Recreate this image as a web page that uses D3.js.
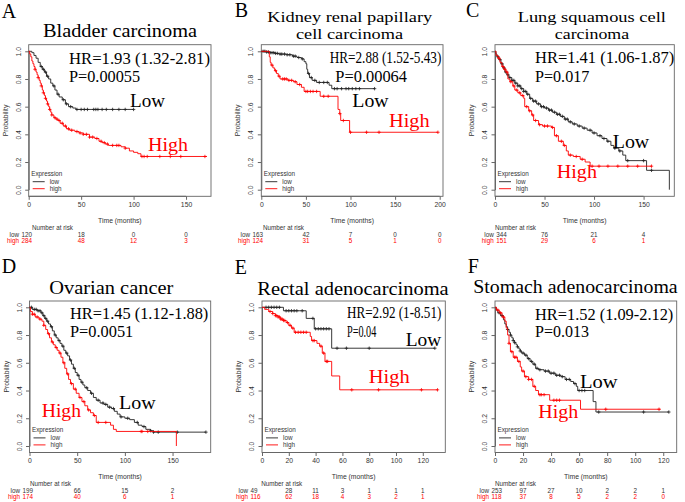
<!DOCTYPE html>
<html><head><meta charset="utf-8">
<script src="https://cdn.jsdelivr.net/npm/d3@7"></script>
<style>body{margin:0;background:#fff}</style>
</head><body><svg id="c" width="685" height="502"></svg>
<script>
// ---------------- DATA ----------------
const panelLetters = ["A","B","C","D","E","F"];
const titles = [["Bladder carcinoma"],["Kidney renal papillary","cell carcinoma"],["Lung squamous cell","carcinoma"],["Ovarian cancer"],["Rectal adenocarcinoma"],["Stomach adenocarcinoma"]];
const hrTexts = ["HR=1.93 (1.32-2.81)","HR=2.88 (1.52-5.43)","HR=1.41 (1.06-1.87)","HR=1.45 (1.12-1.88)","HR=2.92 (1-8.51)","HR=1.52 (1.09-2.12)"];
const pTexts = ["P=0.00055","P=0.00064","P=0.017","P=0.0051","P=0.04","P=0.013"];
const xTicks = [[0,50,100,150],[0,50,100,150,200],[0,50,100,150],[0,50,100,150],[0,20,40,60,80,100,120],[0,20,40,60,80,100,120]];
const yTicks = [0,0.2,0.4,0.6,0.8,1.0];
const riskLow = [[120,18,0,0],[163,42,7,0,0],[344,76,21,4],[199,66,15,2],[49,28,11,3,1,1,1],[253,97,27,10,2,2,1]];
const riskHigh = [[284,48,12,3],[124,31,5,1,0],[151,29,6,1],[174,40,6,1],[116,62,18,4,3,2,1],[118,37,8,5,2,2,0]];

// survival steps [time, survival after drop]
const lowA = [[0,1],[3,0.99],[5,0.97],[7,0.95],[9,0.92],[11,0.89],[13,0.87],[15,0.85],[17,0.82],[19,0.80],[21,0.77],[23,0.75],[25,0.72],[27,0.69],[29,0.67],[32,0.65],[35,0.62],[38,0.60],[42,0.59],[45,0.58]];
const highA = [[0,1],[1,0.98],[2,0.96],[3,0.93],[4,0.91],[5,0.89],[6,0.87],[7,0.85],[8,0.83],[9,0.81],[10,0.79],[11,0.77],[12,0.75],[13,0.72],[14,0.70],[15,0.68],[16,0.66],[17,0.64],[18,0.62],[19,0.60],[20,0.58],[21,0.56],[22,0.54],[24,0.52],[26,0.51],[28,0.50],[30,0.48],[33,0.46],[36,0.44],[39,0.43],[44,0.42],[48,0.41],[52,0.40],[58,0.38],[63,0.37],[67,0.35],[70,0.34],[73,0.33],[76,0.32],[88,0.31],[92,0.30],[96,0.28],[100,0.27],[104,0.26],[107,0.24]];
const lowB = [[0,1],[5,0.995],[10,0.99],[15,0.985],[20,0.98],[28,0.975],[35,0.965],[40,0.955],[45,0.945],[48,0.925],[50,0.91],[51,0.87],[52,0.84],[54,0.81],[57,0.79],[62,0.775],[76,0.755],[79,0.73]];
const highB = [[0,1],[9,0.96],[10,0.92],[11,0.90],[13,0.88],[15,0.86],[17,0.84],[19,0.82],[21,0.80],[30,0.79],[36,0.78],[40,0.76],[45,0.74],[48,0.71],[66,0.675],[86,0.58],[88,0.55],[89,0.50],[99,0.415]];
const lowC = [[0,1],[1,0.98],[2,0.96],[4,0.94],[6,0.91],[8,0.88],[10,0.85],[12,0.83],[14,0.81],[17,0.79],[20,0.77],[23,0.75],[26,0.73],[29,0.71],[32,0.69],[35,0.66],[38,0.64],[42,0.62],[46,0.60],[50,0.59],[54,0.575],[58,0.56],[62,0.545],[66,0.53],[70,0.51],[74,0.49],[78,0.475],[83,0.46],[88,0.445],[93,0.43],[98,0.41],[103,0.39],[108,0.37],[113,0.35],[117,0.32],[120,0.30],[125,0.28],[129,0.25],[132,0.21],[153,0.14],[176,0.0]];
const highC = [[0,1],[1,0.97],[3,0.95],[5,0.92],[7,0.89],[9,0.87],[11,0.85],[13,0.80],[15,0.78],[18,0.75],[20,0.72],[23,0.70],[26,0.68],[29,0.66],[30,0.60],[34,0.57],[37,0.54],[39,0.50],[44,0.47],[48,0.46],[57,0.45],[60,0.39],[64,0.35],[69,0.32],[72,0.28],[74,0.25],[79,0.24],[86,0.22],[91,0.20],[96,0.17]];
const lowD = [[0,1],[3,0.985],[8,0.975],[12,0.96],[14,0.94],[16,0.92],[18,0.90],[20,0.88],[22,0.86],[24,0.83],[26,0.80],[28,0.78],[30,0.76],[32,0.74],[34,0.72],[36,0.69],[38,0.67],[40,0.65],[42,0.62],[44,0.59],[46,0.56],[48,0.53],[50,0.51],[52,0.48],[54,0.46],[56,0.44],[58,0.42],[61,0.40],[64,0.38],[67,0.35],[70,0.33],[74,0.31],[78,0.30],[82,0.28],[86,0.27],[89,0.25],[92,0.23],[95,0.21],[100,0.20],[105,0.19],[110,0.17],[114,0.15],[118,0.14],[122,0.12],[127,0.11],[130,0.10]];
const highD = [[0,1],[1,0.97],[3,0.95],[6,0.93],[10,0.915],[13,0.90],[15,0.87],[17,0.84],[19,0.81],[21,0.78],[23,0.75],[25,0.73],[27,0.71],[29,0.69],[31,0.67],[33,0.64],[35,0.60],[37,0.56],[39,0.52],[41,0.48],[43,0.45],[46,0.41],[49,0.38],[52,0.35],[55,0.32],[58,0.29],[61,0.26],[64,0.24],[67,0.22],[70,0.17],[85,0.15],[88,0.12],[91,0.105],[154,0]];
const lowE = [[0,1],[16,0.975],[33,0.92],[39,0.845],[52,0.705]];
const highE = [[0,1],[2,0.985],[5,0.97],[8,0.955],[10,0.94],[12,0.93],[14,0.915],[16,0.905],[18,0.89],[20,0.87],[22,0.85],[24,0.82],[36,0.79],[37,0.76],[41,0.74],[43,0.72],[45,0.67],[47,0.61],[52,0.505],[58,0.405]];
const lowF = [[0,1],[1,0.98],[2,0.96],[4,0.94],[6,0.91],[7,0.88],[8,0.86],[9,0.84],[10,0.82],[11,0.80],[12,0.78],[13,0.76],[14,0.745],[15,0.73],[16,0.715],[17,0.70],[18,0.685],[19,0.67],[21,0.655],[23,0.63],[25,0.61],[27,0.59],[29,0.56],[31,0.55],[35,0.54],[39,0.525],[43,0.51],[47,0.50],[50,0.48],[54,0.465],[56,0.45],[58,0.43],[59,0.40],[70,0.32],[72,0.245]];
const highF = [[0,1],[1,0.98],[3,0.96],[5,0.93],[7,0.90],[8,0.85],[9,0.80],[10,0.74],[11,0.68],[13,0.64],[16,0.61],[18,0.57],[19,0.54],[21,0.50],[24,0.48],[27,0.43],[29,0.40],[31,0.37],[39,0.33],[61,0.265]];

const lowEnd = [100,127,176,185,129,124];
const highEnd = [170,198,158,154,131,118];

const lowCens = [
 [12,14,16,18,24,28,33,36,40,46,50,53,56,62,64,66,70,74,80,86,92,100],
 [2,4,6,8,10,12,14,16,18,21,23,26,29,32,36,38,42,46,53,56,60,65,70,74,82,85,90,95,98,102,106,110,127],
 [3,5,7,9,11,13,15,17,19,21,23,25,27,29,31,33,36,39,41,44,47,49,52,55,57,60,63,65,68,71,73,76,80,85,90,96,100,106,110,114,121,126,134,150,158],
 [2,5,7,9,11,13,15,17,19,23,27,31,35,39,43,47,51,55,60,65,72,77,80,84,88,96,103,113,120,127,130,135,155,185],
 [3,5,7,9,11,13,18,20,22,24,26,30,38,40,42,44,46,48,50,56,63,80,129],
 [3,5,9,11,13,14,16,18,20,22,24,26,28,30,32,36,38,40,42,44,46,48,51,53,57,60,62,64,74,106,124]
];
const highCens = [
 [6,9,12,14,16,18,20,22,25,27,29,32,35,38,41,46,49,52,55,58,61,65,69,72,75,80,84,86,92,108,110,113,125,135,145,168],
 [12,16,20,24,26,28,31,34,38,43,50,52,55,58,62,70,75,88,92,100,118,132,198],
 [4,8,10,12,16,19,22,25,28,32,35,38,41,45,50,53,58,62,67,70,76,82,88,98,105,114,124,134,144,158],
 [3,5,8,11,15,20,24,28,32,36,40,44,48,53,57,62,68,72,80,117,118,124],
 [6,8,10,11,12,13,14,15,16,17,19,21,23,25,27,29,31,33,38,39,44,46,48,49,67,87,119,131],
 [2,4,6,10,12,14,15,17,20,22,24,26,28,32,33,35,42,44,46,79,117]
];
const lowSteps = [lowA,lowB,lowC,lowD,lowE,lowF];
const highSteps = [highA,highB,highC,highD,highE,highF];

// ---------------- LAYOUT ----------------
const rowTop = {t:44.7,b:196.3,y1:51.3,y0:189.7};
const rowBot = {t:301,b:452.5,y1:307.3,y0:446};
const layouts = [
 Object.assign({l:28.7,r:211,xmax:173.8,letter:[1.7,18.3],ts:19,title:[[120,36.7,154]],hr:[69,64,141],p:[69,81.7,71],low:[130,106.7,35],high:[148,150.7,40],riskEnd:19,narX:32},rowTop),
 Object.assign({l:261.3,r:443,xmax:203.7,letter:[234.7,16.7],ts:15,title:[[349.7,21.8,165],[349.5,38.8,107]],hr:[329.7,63.3,111.6],p:[335.3,81.7,71.7],low:[352.3,107.3,36.4],high:[389,126.7,40.7],riskEnd:250,narX:263},rowTop),
 Object.assign({l:495,r:674.3,xmax:181,letter:[466,16.7],ts:15,title:[[591.8,21.8,148.3],[592,38.8,74.3]],hr:[535,63.3,139.3],p:[535,81.7,54.3],low:[612.7,147.7,36.6],high:[556.7,178.3,40.3],riskEnd:493.7,narX:495},rowTop),
 Object.assign({l:29.5,r:210.7,xmax:190,letter:[1.7,272.7],ts:18,title:[[111.3,294,124]],hr:[70,319.3,138.3],p:[70,336.7,63.3],low:[119,409.3,36.7],high:[41.7,416.7,39.3],riskEnd:20,narX:30},rowBot),
 Object.assign({l:262,r:445.3,xmax:136.8,letter:[234.7,274],ts:18,title:[[353,295,191.4]],hr:[347,318.3,94.3],p:[347,336.7,29.3],low:[405.7,346,35.6],high:[368.7,383.3,41],riskEnd:248,narX:261.3},rowBot),
 Object.assign({l:495,r:676.7,xmax:129.6,letter:[467.7,273.3],ts:18,title:[[575.5,292.7,204.4]],hr:[535,320,138.3],p:[535,337.3,54],low:[580,387.7,37.7],high:[538.3,418.3,40],riskEnd:489,narX:495},rowBot)
];

const RED = "#ff0000", BLK = "#222";
const SERIF = "'Liberation Serif','Times New Roman',serif";
const SANS = "'Liberation Sans',Arial,sans-serif";
const svg = d3.select("#c");

function survAt(steps, t){ let s = 1; for (const d of steps){ if (d[0] <= t) s = d[1]; } return s; }

function fitText(g, txt, x, y, w, size, fam, color, anchor){
  const t = g.append("text").attr("x", x).attr("y", y).text(txt)
    .attr("font-family", fam).attr("font-size", size).attr("fill", color);
  if (anchor) t.attr("text-anchor", anchor);
  if (w) t.attr("textLength", w).attr("lengthAdjust", "spacingAndGlyphs");
  return t;
}

layouts.forEach((L, i) => {
  const g = svg.append("g");
  const x = d3.scaleLinear().domain([0, L.xmax]).range([L.l, L.r]);
  const y = d3.scaleLinear().domain([0, 1]).range([L.y0, L.y1]);

  g.append("rect").attr("x", L.l).attr("y", L.t).attr("width", L.r - L.l).attr("height", L.b - L.t)
    .attr("fill", "none").attr("stroke", "#666").attr("stroke-width", 0.9);

  const xa = g.append("g").attr("transform", `translate(0,${L.b})`)
    .call(d3.axisBottom(x).tickValues(xTicks[i]).tickSize(3.5).tickPadding(2).tickSizeOuter(0));
  xa.select(".domain").attr("stroke", "#666").attr("d", `M${x(xTicks[i][0])},0H${x(xTicks[i][xTicks[i].length-1])}`);
  xa.selectAll(".tick line").attr("stroke", "#666");
  xa.selectAll("text").attr("font-family", SANS).attr("font-size", 6.8).attr("fill", "#333");

  const ya = g.append("g").attr("transform", `translate(${L.l},0)`)
    .call(d3.axisLeft(y).tickValues(yTicks).tickFormat(d3.format(".1f")).tickSize(3.5).tickSizeOuter(0));
  ya.select(".domain").attr("stroke", "#666");
  ya.selectAll(".tick line").attr("stroke", "#666");
  ya.selectAll(".tick text").attr("font-family", SANS).attr("font-size", 6.8).attr("fill", "#333")
    .attr("text-anchor", "middle").attr("x", 0).attr("dy", 0)
    .attr("transform", "translate(-10.4,0) rotate(-90)").attr("dominant-baseline", "central");

  g.append("text").attr("transform", `translate(${L.l - 23.5},${(L.y0 + L.y1) / 2}) rotate(-90)`)
    .attr("text-anchor", "middle").attr("dominant-baseline", "central")
    .attr("font-family", SANS).attr("font-size", 6.8).attr("fill", "#333").text("Probability");
  g.append("text").attr("x", (L.l + L.r) / 2).attr("y", L.b + 24).attr("text-anchor", "middle")
    .attr("dominant-baseline", "central").attr("font-family", SANS).attr("font-size", 6.8).attr("fill", "#333").text("Time (months)");

  const line = d3.line().x(d => x(d[0])).y(d => y(d[1])).curve(d3.curveStepAfter);
  const curves = [
    {steps: lowSteps[i], end: lowEnd[i], cens: lowCens[i], col: BLK},
    {steps: highSteps[i], end: highEnd[i], cens: highCens[i], col: RED}
  ];
  curves.forEach(c => {
    const pts = c.steps.slice();
    const last = pts[pts.length - 1];
    if (last[0] < c.end) pts.push([c.end, last[1]]);
    g.append("path").attr("d", line(pts)).attr("fill", "none").attr("stroke", c.col).attr("stroke-width", 0.9);
    const cg = g.append("g").attr("stroke", c.col).attr("stroke-width", 0.8);
    c.cens.forEach(t => {
      const cx = x(t), cy = y(survAt(c.steps, t));
      cg.append("path").attr("d", `M${cx - 1.7},${cy}H${cx + 1.7}M${cx},${cy - 1.7}V${cy + 1.7}`);
    });
  });

  g.append("text").attr("x", L.l + 2.5).attr("y", L.b - 23.3).attr("dominant-baseline", "central")
    .attr("font-family", SANS).attr("font-size", 6.3).attr("fill", "#333").text("Expression");
  [["low", BLK, 14.6], ["high", RED, 7.6]].forEach(([lab, col, dy]) => {
    g.append("line").attr("x1", L.l + 4).attr("x2", L.l + 16).attr("y1", L.b - dy).attr("y2", L.b - dy)
      .attr("stroke", col).attr("stroke-width", 0.9);
    g.append("text").attr("x", L.l + 21).attr("y", L.b - dy).attr("dominant-baseline", "central")
      .attr("font-family", SANS).attr("font-size", 6.3).attr("fill", "#333").text(lab);
  });

  g.append("text").attr("x", L.narX).attr("y", L.b + 31.2).attr("dominant-baseline", "central")
    .attr("font-family", SANS).attr("font-size", 6.3).attr("fill", "#333").text("Number at risk");
  [["low", riskLow[i], "#333", 38.2], ["high", riskHigh[i], RED, 43.8]].forEach(([lab, vals, col, dy]) => {
    g.append("text").attr("x", L.riskEnd).attr("y", L.b + dy).attr("text-anchor", "end").attr("dominant-baseline", "central")
      .attr("font-family", SANS).attr("font-size", 6.3).attr("fill", col).text(lab);
    vals.forEach((v, k) => {
      const t = g.append("text").attr("y", L.b + dy).attr("dominant-baseline", "central")
        .attr("font-family", SANS).attr("font-size", 6.3).attr("fill", col).text(v);
      if (k === 0) t.attr("x", L.riskEnd + 2.5);
      else t.attr("x", x(xTicks[i][k])).attr("text-anchor", "middle");
    });
  });

  fitText(g, panelLetters[i], L.letter[0], L.letter[1], null, 20, SERIF, "#000");
  titles[i].forEach((ln, k) => {
    const T = L.title[k];
    fitText(g, ln, T[0], T[1], T[2], L.ts, SERIF, "#000", "middle");
  });
  fitText(g, hrTexts[i], L.hr[0], L.hr[1], L.hr[2], 16, SERIF, "#000");
  fitText(g, pTexts[i], L.p[0], L.p[1], L.p[2], 16, SERIF, "#000");
  fitText(g, "Low", L.low[0], L.low[1], L.low[2], 18.5, SERIF, "#000");
  fitText(g, "High", L.high[0], L.high[1], L.high[2], 18.5, SERIF, RED);
});
</script></body></html>
